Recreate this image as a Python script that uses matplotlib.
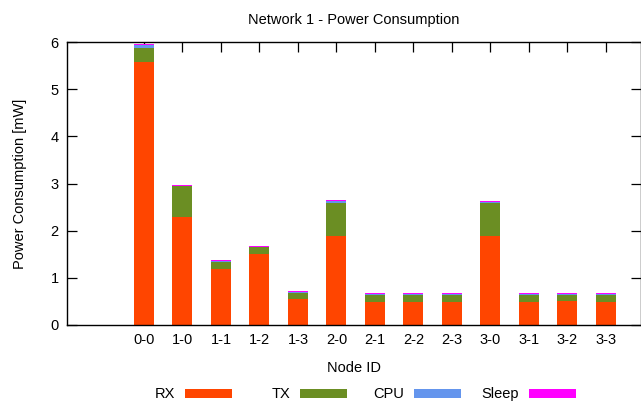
import matplotlib.pyplot as plt
import numpy as np
from matplotlib.patches import Rectangle

# Per-node power breakdown in mW
nodes = ['0-0', '1-0', '1-1', '1-2', '1-3', '2-0', '2-1', '2-2', '2-3',
         '3-0', '3-1', '3-2', '3-3']
rx = [5.57, 2.28, 1.19, 1.51, 0.55, 1.89, 0.49, 0.49, 0.49, 1.89, 0.49, 0.51, 0.49]
tx = [0.31, 0.66, 0.15, 0.14, 0.13, 0.70, 0.15, 0.15, 0.15, 0.69, 0.15, 0.13, 0.15]
cpu = [0.06, 0.01, 0.01, 0.01, 0.02, 0.03, 0.01, 0.01, 0.01, 0.03, 0.01, 0.01, 0.01]
sleep = [0.02, 0.02, 0.02, 0.02, 0.02, 0.02, 0.02, 0.02, 0.02, 0.02, 0.02, 0.02, 0.02]

series = [('RX', rx, '#ff4500'), ('TX', tx, '#6b8e23'),
          ('CPU', cpu, '#6495ed'), ('Sleep', sleep, '#ff00ff')]

plt.rcParams['font.family'] = ['Liberation Sans', 'DejaVu Sans']

W, H = 641, 407
fig = plt.figure(figsize=(W / 100, H / 100), dpi=100)
ax = fig.add_axes([67 / W, (H - 325) / H, (640.5 - 67) / W, (325 - 42) / H])

x = np.arange(len(nodes))
bottom = np.zeros(len(nodes))
for name, vals, color in series:
    ax.bar(x, vals, width=0.52, bottom=bottom, color=color, linewidth=0, zorder=2)
    bottom += np.array(vals)

ax.set_xlim(-2, 12.9)
ax.set_ylim(0, 6)
ax.set_xticks(x)
ax.set_xticklabels(nodes)
ax.set_yticks(range(7))
ax.tick_params(direction='in', length=7, width=0.9, labelsize=10.5,
               top=True, right=True, pad=6)
for s in ax.spines.values():
    s.set_linewidth(1.0)

ax.set_title('Network 1 - Power Consumption', fontsize=10.5, pad=13)
ax.set_xlabel('Node ID', fontsize=10.5, labelpad=10)
ax.set_ylabel('Power Consumption [mW]', fontsize=10.5, labelpad=17)

# Key along the bottom: label then coloured swatch
key_text_right = [175, 290, 404, 519]
for (name, vals, color), tr in zip(series, key_text_right):
    fig.text(tr / W, (H - 394) / H, name, ha='right', va='center', fontsize=10.5)
    fig.patches.append(Rectangle(((tr + 10) / W, (H - 398) / H), 47 / W, 9 / H,
                                 transform=fig.transFigure, color=color,
                                 linewidth=0))

fig.savefig('out.png', dpi=100)
